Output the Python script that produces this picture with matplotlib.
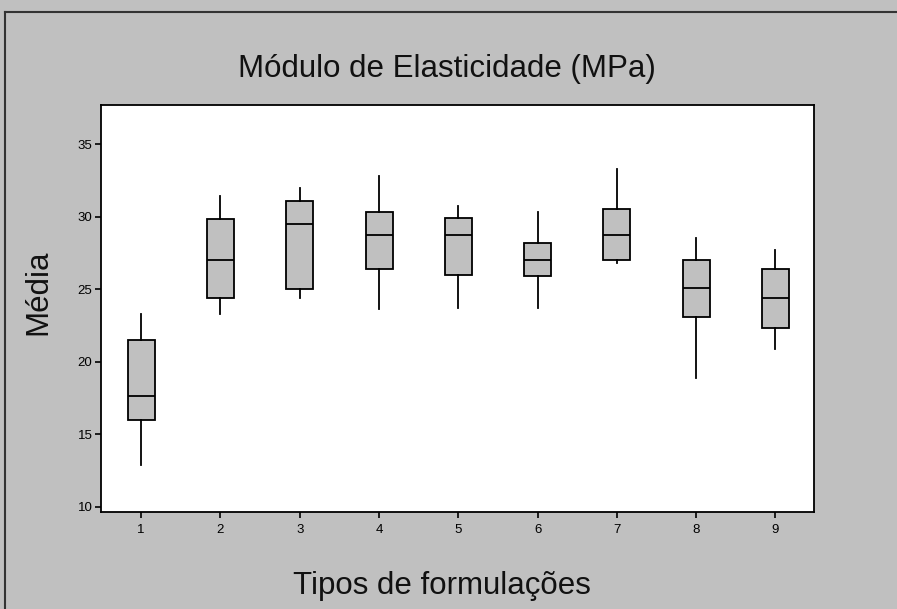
import matplotlib
matplotlib.use("Agg")
import matplotlib.pyplot as plt
from matplotlib.lines import Line2D

plt.rcParams["font.family"] = ["Liberation Sans", "DejaVu Sans"]

# formulation types and box statistics (MPa)
formulations = [1, 2, 3, 4, 5, 6, 7, 8, 9]
whisker_low = [12.9, 23.3, 24.4, 23.6, 23.7, 23.7, 26.8, 18.9, 20.9]
q1 = [16.0, 24.4, 25.0, 26.4, 26.0, 25.9, 27.0, 23.1, 22.3]
median = [17.6, 27.0, 29.5, 28.7, 28.7, 27.0, 28.7, 25.1, 24.4]
q3 = [21.5, 29.8, 31.1, 30.3, 29.9, 28.2, 30.5, 27.0, 26.4]
whisker_high = [23.3, 31.4, 32.0, 32.8, 30.7, 30.3, 33.3, 28.5, 27.7]
yticks = [10, 15, 20, 25, 30, 35]

GRAY = "#c0c0c0"
W, H = 897, 609

stats = []
for i, f in enumerate(formulations):
    stats.append({
        "label": str(f),
        "whislo": whisker_low[i],
        "q1": q1[i],
        "med": median[i],
        "q3": q3[i],
        "whishi": whisker_high[i],
        "fliers": [],
    })

fig = plt.figure(figsize=(W / 100, H / 100), dpi=100, facecolor=GRAY)
ax = fig.add_axes([0.1123, 0.1593, 0.7955, 0.6678])
ax.set_facecolor("white")

lw = 1.3
ax.bxp(stats, positions=formulations, widths=0.34, patch_artist=True,
       showcaps=False,
       boxprops=dict(facecolor=GRAY, edgecolor="black", linewidth=lw),
       medianprops=dict(color="black", linewidth=lw),
       whiskerprops=dict(color="black", linewidth=lw))

ax.set_xlim(0.49, 9.49)
ax.set_ylim(9.64, 37.67)
ax.set_xticks(formulations)
ax.set_xticklabels([str(f) for f in formulations])
ax.set_yticks(yticks)
ax.tick_params(direction="out", length=4, width=1.2, labelsize=9.5, pad=2)
ax.tick_params(axis="x", pad=5)
for s in ax.spines.values():
    s.set_linewidth(1.3)

# titles placed in pixel terms of the figure
fig.text(447 / W, 1 - 77 / H, "Módulo de Elasticidade (MPa)", ha="center",
         va="baseline", fontsize=22.5, color="#111111")
fig.text(442 / W, 1 - 594 / H, "Tipos de formulações", ha="center",
         va="baseline", fontsize=22.5, color="#111111")
fig.text(53 / W, 1 - 292 / H, "Média", ha="right", va="center",
         rotation=90, fontsize=22.5, color="#111111")

# outer frame of the graph window
fig.add_artist(Line2D([5 / W, 1], [1 - 12 / H, 1 - 12 / H],
                      transform=fig.transFigure, color="#333333", linewidth=1.5))
fig.add_artist(Line2D([5 / W, 5 / W], [0, 1 - 12 / H],
                      transform=fig.transFigure, color="#333333", linewidth=1.5))

fig.savefig("out.png", dpi=100, facecolor=GRAY)
